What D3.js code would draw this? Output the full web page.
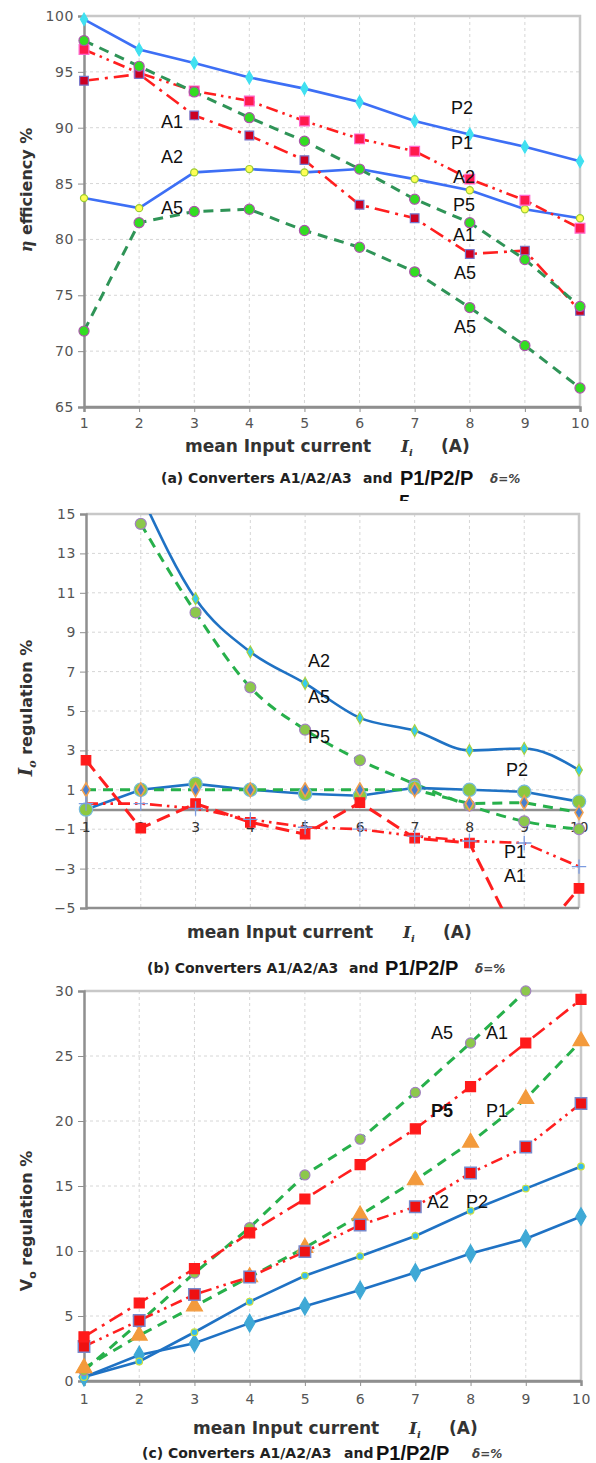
<!DOCTYPE html>
<html>
<head>
<script src="https://d3js.org/d3.v7.min.js"></script>
<style>
  body { margin: 0; background: #fff; }
  .tick text { font-family: "DejaVu Sans", sans-serif; font-size: 14px; fill: #555; letter-spacing: 0.6px; }
  .lbl { font-family: "Liberation Sans", Arial, sans-serif; font-size: 18px; fill: #111; }
  .ttl { font-family: "DejaVu Sans", sans-serif; font-weight: bold; fill: #333; }
  .cap { font-family: "DejaVu Sans", sans-serif; font-weight: bold; font-size: 14px; fill: #222; }
  .big { font-family: "Liberation Sans", Arial, sans-serif; font-weight: bold; font-size: 20px; fill: #111; }
  .dlt { font-family: "DejaVu Sans", sans-serif; font-weight: bold; font-style: italic; font-size: 12px; fill: #444; }
  .ser { font-family: "DejaVu Serif", serif; font-style: italic; font-weight: bold; }
</style>
</head>
<body>
<svg width="596" height="1463"></svg>
<script>
const currents = [1, 2, 3, 4, 5, 6, 7, 8, 9, 10];

// (a) efficiency %
const effTicks = [65, 70, 75, 80, 85, 90, 95, 100];
const effP2 = [99.7, 97.0, 95.8, 94.5, 93.5, 92.3, 90.6, 89.4, 88.3, 87.0];
const effA2 = [83.7, 82.8, 86.0, 86.3, 86.0, 86.3, 85.4, 84.4, 82.7, 81.9];
const effP1 = [97.0, 94.9, 93.3, 92.4, 90.6, 89.0, 87.9, 85.4, 83.5, 81.0];
const effA1 = [94.2, 94.8, 91.1, 89.3, 87.1, 83.1, 81.9, 78.7, 79.0, 73.6];
const effP5 = [97.8, 95.5, 93.2, 90.9, 88.8, 86.3, 83.6, 81.5, 78.2, 74.0];
const effA5 = [71.8, 81.5, 82.5, 82.7, 80.8, 79.3, 77.1, 73.9, 70.5, 66.7];

// (b) Io regulation %
const ioTicks = [-5, -3, -1, 1, 3, 5, 7, 9, 11, 13, 15];
const ioA2 = [null, 16.0, 10.7, 8.0, 6.4, 4.65, 4.0, 3.0, 3.1, 2.0];
const ioA5 = [null, 14.5, 10.0, 6.2, 4.05, 2.5, 1.3, 0.2, -0.6, -1.0];
const ioP2 = [0.0, 1.0, 1.3, 1.0, 0.8, 0.7, 1.1, 1.0, 0.9, 0.4];
const ioP5 = [1.0, 1.0, 1.0, 1.0, 1.0, 1.0, 1.0, 0.3, 0.35, -0.15];
const ioA1 = [2.5, -0.95, 0.3, -0.65, -1.25, 0.35, -1.45, -1.7, -7.3, -4.0];
const ioP1 = [0.3, 0.3, 0.05, -0.5, -0.9, -1.0, -1.35, -1.6, -1.7, -2.9];

// (c) Vo regulation %
const voTicks = [0, 5, 10, 15, 20, 25, 30];
const voA5 = [0.8, 4.5, 8.3, 11.8, 15.85, 18.6, 22.2, 26.0, 30.0, null];
const voA1 = [3.4, 6.0, 8.65, 11.4, 14.0, 16.65, 19.4, 22.65, 26.0, 29.35];
const voP5 = [1.0, 3.5, 5.75, 8.0, 10.25, 12.75, 15.45, 18.35, 21.7, 26.15];
const voP1 = [2.65, 4.65, 6.65, 8.0, 9.95, 12.0, 13.4, 16.0, 18.0, 21.35];
const voA2 = [0.3, 1.5, 3.75, 6.1, 8.1, 9.6, 11.15, 13.1, 14.8, 16.5];
const voP2 = [0.3, 2.0, 2.9, 4.45, 5.75, 7.0, 8.35, 9.8, 10.95, 12.65];

const svg = d3.select("svg");
const plus = d3.symbolPlus || d3.symbolCross;

const blueA = "#3d6ff5", blue = "#1f72c4", red = "#ff1f1f", greenA = "#2f9457", green = "#27b04b";
const dashG = "10,7", dashA1 = "15,6,3,6", dashP1 = "12,5,2.5,5,2.5,5";

function panel(p) {
  const x = d3.scaleLinear().domain([1, 10]).range([p.left, p.right]);
  const y = d3.scaleLinear().domain(p.domain).range([p.bottom, p.top]);
  const g = svg.append("g");

  // grid
  g.selectAll(null).data(currents.slice(1, -1)).join("line")
    .attr("x1", d => x(d)).attr("x2", d => x(d))
    .attr("y1", p.top).attr("y2", p.bottom)
    .attr("stroke", "#d6d6d6").attr("stroke-dasharray", "3,3");
  g.selectAll(null).data(p.ticks.slice(1, -1)).join("line")
    .attr("x1", p.left).attr("x2", p.right)
    .attr("y1", d => y(d)).attr("y2", d => y(d))
    .attr("stroke", "#d6d6d6").attr("stroke-dasharray", "3,3");

  // frame
  g.append("path").attr("d", `M${p.left},${p.top}H${p.right}V${p.bottom}`)
    .attr("fill", "none").attr("stroke", "#c8c8c8").attr("stroke-width", 2.5);
  g.append("line").attr("x1", p.left).attr("x2", p.right).attr("y1", p.bottom).attr("y2", p.bottom)
    .attr("stroke", "#8f8f8f").attr("stroke-width", 2.5);

  const ya = g.append("g").attr("transform", `translate(${p.left},0)`)
    .call(d3.axisLeft(y).tickValues(p.ticks).tickSize(6).tickPadding(4).tickFormat(d3.format("d")));
  ya.select(".domain").attr("stroke", "#8f8f8f").attr("stroke-width", 2.5);
  ya.selectAll(".tick line").attr("stroke", "#8f8f8f");

  const xa = g.append("g").attr("transform", `translate(0,${y(p.xAt)})`)
    .call(d3.axisBottom(x).tickValues(currents).tickSize(p.xTick).tickPadding(p.xPad));
  xa.select(".domain").attr("stroke", "#8f8f8f").attr("stroke-width", 2.5);
  xa.selectAll(".tick line").attr("stroke", "#8f8f8f");
  if (p.xDark) xa.selectAll(".tick text").style("fill", "#333");

  const id = "clip" + p.name;
  svg.append("clipPath").attr("id", id).append("rect")
    .attr("x", p.left - 8).attr("y", p.top).attr("width", p.right - p.left + 16).attr("height", p.bottom - p.top);

  const pts = s => currents.map((c, i) => [c, s.values[i]]);

  p.series.forEach(s => {
    const line = d3.line().defined(d => d[1] != null)
      .x(d => x(d[0])).y(d => y(d[1]))
      .curve(s.smooth ? d3.curveMonotoneX : d3.curveLinear);
    g.append("path").datum(pts(s)).attr("d", line)
      .attr("clip-path", `url(#${id})`)
      .attr("fill", "none").attr("stroke", s.color).attr("stroke-width", s.width || 2.6)
      .attr("stroke-dasharray", s.dash || null);
  });

  p.series.forEach(s => {
    const inside = pts(s).filter(d => d[1] != null && d[1] >= p.domain[0] && d[1] <= p.domain[1]);
    g.selectAll(null).data(inside).join("path")
      .attr("transform", d => `translate(${x(d[0])},${y(d[1])})`)
      .attr("d", d3.symbol(s.shape, s.size))
      .attr("fill", s.fill).attr("stroke", s.stroke).attr("stroke-width", s.sw || 1.2);
  });

  p.labels.forEach(l => {
    g.append("text").attr("class", "lbl").attr("x", l[1]).attr("y", l[2])
      .attr("text-anchor", "middle").attr("dy", "0.35em").text(l[0])
      .style("font-weight", l[3] ? "bold" : null);
  });

  // x title
  const t = g.append("g").attr("transform", `translate(${p.xTitle[0]},${p.xTitle[1]})`);
  t.append("text").attr("class", "ttl").attr("font-size", 17).text("mean Input current");
  const it = t.append("text").attr("class", "ttl ser").attr("x", 216).attr("font-size", 17);
  it.append("tspan").text("I");
  it.append("tspan").attr("font-size", 10).attr("dy", 4).text("i");
  t.append("text").attr("class", "ttl").attr("x", 256).attr("font-size", 17).text("(A)");

  // caption
  const c = p.caption;
  svg.append("text").attr("class", "cap").attr("x", c[1]).attr("y", c[0]).text(`(${p.name}) Converters A1/A2/A3`);
  svg.append("text").attr("class", "cap").attr("x", c[2]).attr("y", c[0]).text("and");
  svg.append("text").attr("class", "big").attr("x", c[3]).attr("y", c[0] + 2).text("P1/P2/P");
  svg.append("text").attr("class", "dlt").attr("x", c[4]).attr("y", c[0]).text("δ=%");
}

panel({
  name: "a", left: 84, right: 580, top: 16, bottom: 407, domain: [65, 100], ticks: effTicks,
  xAt: 65, xTick: 5, xPad: 6,
  series: [
    { values: effP2, color: blueA, shape: d3.symbolDiamond, size: 45, fill: "#40e0f0", stroke: "#40e0f0" },
    { values: effA2, color: blueA, shape: d3.symbolCircle, size: 40, fill: "#ffff55", stroke: "#9ccc33" },
    { values: effP1, color: red, dash: dashP1, shape: d3.symbolSquare, size: 95, fill: "#ff1a4d", stroke: "#ff66cc" },
    { values: effA1, color: red, dash: dashA1, shape: d3.symbolSquare, size: 75, fill: "#cc0022", stroke: "#7777cc" },
    { values: effP5, color: greenA, dash: dashG, width: 3, shape: d3.symbolCircle, size: 80, fill: "#33dd22", stroke: "#aa55aa" },
    { values: effA5, color: greenA, dash: dashG, width: 3, shape: d3.symbolCircle, size: 80, fill: "#33dd22", stroke: "#aa55aa" }
  ],
  labels: [["A1", 172, 122], ["A2", 172, 157], ["A5", 172, 208], ["P2", 462, 108], ["P1", 462, 143],
           ["A2", 464, 177], ["P5", 464, 205], ["A1", 464, 235], ["A5", 465, 273], ["A5", 465, 327]],
  xTitle: [185, 452],
  caption: [483, 161, 363, 400, 490]
});

// wrapped "5" of the first caption, cut off by the next panel
svg.append("clipPath").attr("id", "cut5").append("rect").attr("x", 390).attr("y", 486).attr("width", 30).attr("height", 15);
svg.append("text").attr("class", "big").attr("x", 399).attr("y", 509).attr("clip-path", "url(#cut5)").text("5");

panel({
  name: "b", left: 86, right: 579, top: 514, bottom: 908, domain: [-5, 15], ticks: ioTicks,
  xAt: 0, xTick: 0, xPad: 13, xDark: true,
  series: [
    { values: ioA2, color: blue, smooth: true, shape: d3.symbolDiamond, size: 40, fill: "#33ccee", stroke: "#a8d040" },
    { values: ioA5, color: green, dash: dashG, width: 3, smooth: true, shape: d3.symbolCircle, size: 95, fill: "#8cc84b", stroke: "#a080c0" },
    { values: ioP2, color: blue, shape: d3.symbolCircle, size: 140, fill: "#8cc840", stroke: "#77bbdd" },
    { values: ioP5, color: green, dash: dashG, width: 3, shape: d3.symbolDiamond, size: 55, fill: "#4a7fd0", stroke: "#f0a050", sw: 1.6 },
    { values: ioA1, color: red, dash: "14,7", width: 3, shape: d3.symbolSquare, size: 90, fill: "#ff1a1a", stroke: "#ff1a1a" },
    { values: ioP1, color: red, dash: dashP1, shape: plus, size: 70, fill: "none", stroke: "#7b9be0", sw: 1.3 }
  ],
  labels: [["A2", 319, 661], ["A5", 319, 697], ["P5", 319, 737], ["P2", 517, 770], ["P1", 515, 852], ["A1", 515, 876]],
  xTitle: [187, 938],
  caption: [973, 147, 349, 385, 475]
});

panel({
  name: "c", left: 84, right: 581, top: 991, bottom: 1381, domain: [0, 30], ticks: voTicks,
  xAt: 0, xTick: 5, xPad: 8,
  series: [
    { values: voP2, color: blue, shape: d3.symbolDiamond, size: 90, fill: "#3fa9d6", stroke: "#3fa9d6" },
    { values: voA2, color: blue, shape: d3.symbolCircle, size: 35, fill: "#33bbee", stroke: "#c8e040" },
    { values: voA5, color: green, dash: dashG, width: 3, shape: d3.symbolCircle, size: 80, fill: "#8cc84b", stroke: "#a080c0" },
    { values: voP5, color: green, dash: dashG, width: 3, shape: d3.symbolTriangle, size: 110, fill: "#f39a3c", stroke: "#f39a3c" },
    { values: voP1, color: red, dash: dashP1, shape: d3.symbolSquare, size: 130, fill: "#ee1111", stroke: "#7788cc", sw: 1.5 },
    { values: voA1, color: red, dash: dashA1, shape: d3.symbolSquare, size: 100, fill: "#ff1a1a", stroke: "#ff1a1a" }
  ],
  labels: [["A5", 442, 1033], ["A1", 497, 1033], ["P5", 442, 1111, true], ["P1", 497, 1111], ["A2", 438, 1202], ["P2", 477, 1202]],
  xTitle: [193, 1434],
  caption: [1458, 142, 344, 376, 472]
});

// y titles
const yt1 = svg.append("text").attr("class", "ttl").attr("font-size", 16)
  .attr("transform", "translate(32,190) rotate(-90)").attr("text-anchor", "middle");
yt1.append("tspan").attr("class", "ser").text("η");
yt1.append("tspan").text(" efficiency %");

const yt2 = svg.append("text").attr("class", "ttl").attr("font-size", 16)
  .attr("transform", "translate(32,708) rotate(-90)").attr("text-anchor", "middle");
yt2.append("tspan").attr("class", "ser").attr("font-size", 18).text("I");
yt2.append("tspan").attr("class", "ser").attr("font-size", 11).attr("dy", 4).text("o");
yt2.append("tspan").attr("dy", -4).text("  regulation %");

const yt3 = svg.append("text").attr("class", "ttl").attr("font-size", 16)
  .attr("transform", "translate(32,1221) rotate(-90)").attr("text-anchor", "middle");
yt3.append("tspan").text("V");
yt3.append("tspan").attr("font-size", 11).attr("dy", 4).text("o");
yt3.append("tspan").attr("dy", -4).text(" regulation %");
</script>
</body>
</html>
